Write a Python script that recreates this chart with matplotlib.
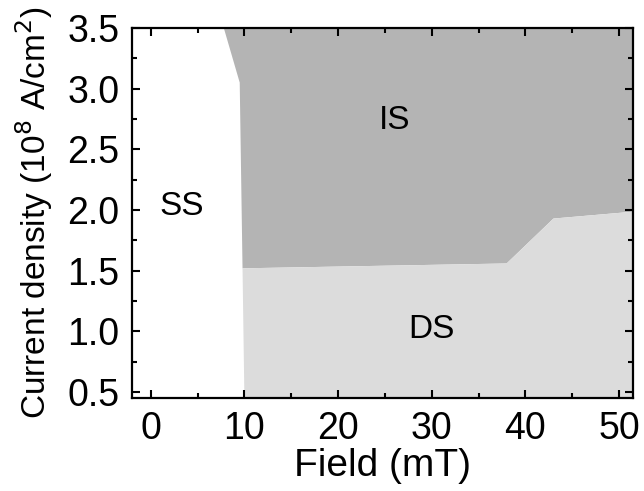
#!/usr/bin/env python3
"""Phase diagram: current density vs field (SS / IS / DS regions)."""

import matplotlib

matplotlib.use("Agg")

import matplotlib.pyplot as plt
from matplotlib.ticker import MultipleLocator

plt.rcParams["font.family"] = ["Liberation Sans", "DejaVu Sans"]

# SS boundary (left edge of the IS / DS regions), top to bottom
ss_edge_field = [7.8, 9.5, 9.8, 10.0]
ss_edge_current = [3.5, 3.05, 1.52, 0.45]

# IS / DS boundary, left to right
ds_edge_field = [9.8, 38.0, 43.0, 52.0]
ds_edge_current = [1.52, 1.56, 1.93, 1.99]

labels = ["SS", "IS", "DS"]
label_field = [3.3, 26.0, 30.0]
label_current = [2.03, 2.74, 1.02]

X_MIN, X_MAX = -2.0, 51.5
Y_MIN, Y_MAX = 0.45, 3.5
IS_COLOR = "#b4b4b4"
DS_COLOR = "#dcdcdc"
TICK_FS = 27
XLABEL_FS = 28
YLABEL_FS = 24
REGION_FS = 24


def main() -> None:
    fig = plt.figure(figsize=(6.44, 4.91), dpi=100)
    ax = fig.add_axes([0.205, 0.189, 0.778, 0.754])

    # IS: from top-left boundary, down to the DS edge, right along it, up to top
    is_x = ss_edge_field[:3] + ds_edge_field[1:] + [ds_edge_field[-1]]
    is_y = ss_edge_current[:3] + ds_edge_current[1:] + [Y_MAX]
    ax.fill(is_x, is_y, color=IS_COLOR, lw=0, zorder=1)

    # DS: below the IS/DS edge, right of the SS edge
    ds_x = [ds_edge_field[0], ss_edge_field[-1], ds_edge_field[-1]] + ds_edge_field[::-1][:-1]
    ds_y = [ds_edge_current[0], ss_edge_current[-1], Y_MIN] + ds_edge_current[::-1][:-1]
    ax.fill(ds_x, ds_y, color=DS_COLOR, lw=0, zorder=1)

    for text, fx, cy in zip(labels, label_field, label_current):
        ax.text(fx, cy, text, fontsize=REGION_FS, ha="center", va="center", zorder=3)

    ax.set_xlim(X_MIN, X_MAX)
    ax.set_ylim(Y_MIN, Y_MAX)
    ax.xaxis.set_major_locator(MultipleLocator(10))
    ax.xaxis.set_minor_locator(MultipleLocator(5))
    ax.yaxis.set_major_locator(MultipleLocator(0.5))
    ax.yaxis.set_minor_locator(MultipleLocator(0.25))
    ax.yaxis.set_major_formatter(plt.FuncFormatter(lambda v, _: f"{v:.1f}"))

    ax.tick_params(which="both", direction="in", top=True, right=True,
                   width=1.5, labelsize=TICK_FS)
    ax.tick_params(axis="x", pad=9)
    ax.tick_params(axis="y", pad=9)
    ax.tick_params(which="major", length=6)
    ax.tick_params(which="minor", length=3.5)
    for spine in ax.spines.values():
        spine.set_linewidth(1.6)
        spine.set_zorder(4)

    ax.set_xlabel("Field (mT)", fontsize=XLABEL_FS, labelpad=1)
    ax.set_ylabel("Current density (10$^8$ A/cm$^2$)", fontsize=YLABEL_FS, labelpad=9)

    fig.savefig("out.png", dpi=100)


if __name__ == "__main__":
    main()
